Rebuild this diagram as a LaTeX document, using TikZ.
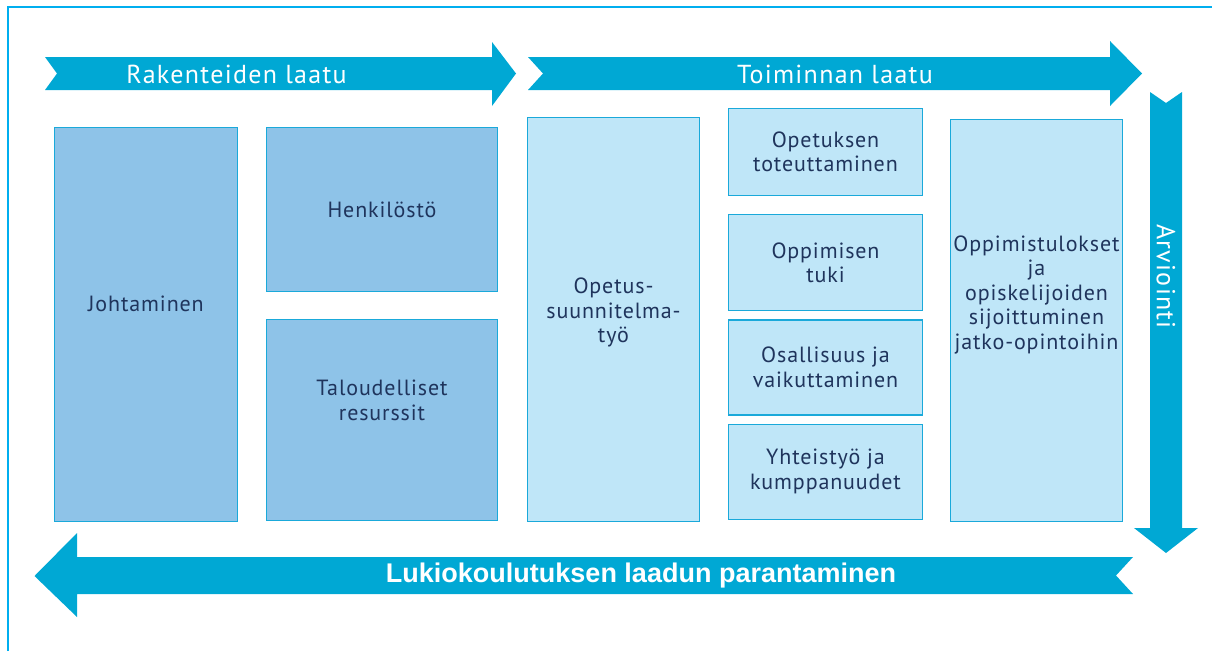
\documentclass[tikz,border=0pt]{standalone}
\usepackage{fontspec}
\setmainfont{PT Sans}
\newfontfamily\boxfont[LetterSpace=4]{PT Sans}
\newfontfamily\bandfont[LetterSpace=5]{PT Sans}
\newfontfamily\arialfont{Liberation Sans}
\usetikzlibrary{positioning}
\definecolor{frameline}{RGB}{0,174,239}
\definecolor{bandarrow}{RGB}{0,168,212}
\definecolor{structure}{RGB}{142,195,232}
\definecolor{activity}{RGB}{191,230,248}
\definecolor{boxline}{RGB}{26,169,218}
\definecolor{boxtext}{RGB}{31,52,92}

\begin{document}
\begin{tikzpicture}[
  x=1pt, y=-1pt,
  % Shared looks
  every node/.style={inner sep=0pt},
  box/.style={
    draw=boxline,
    line width=1.2pt,
    align=center,
    text=boxtext,
    font=\boxfont\fontsize{22}{24.5}\selectfont
  },
  structbox/.style={box, fill=structure},
  actbox/.style={box, fill=activity},
  boxlabel/.style={
    align=center,
    text=boxtext,
    font=\boxfont\fontsize{22}{24.5}\selectfont
  },
  band/.style={fill=bandarrow},
  bandlabel/.style={text=white, font=\bandfont\fontsize{26}{30}\selectfont},
  bottomlabel/.style={text=white, font=\arialfont\bfseries\fontsize{27}{30}\selectfont}
]

\useasboundingbox (0,0) rectangle (1212,651);

% Frame
\draw[frameline, line width=2pt] (8,651) -- (8,7) -- (1212,7);

% Top bands
\fill[band] (45,57) -- (492,57) -- (492,42) -- (516,73.5) -- (492,106)
  -- (492,90) -- (45,90) -- (57,73.5) -- cycle;
\node[bandlabel] (rakenne) at (236.5,74) {Rakenteiden laatu};

\fill[band] (528,57) -- (1110,57) -- (1110,41) -- (1142,73.5) -- (1110,106)
  -- (1110,90) -- (528,90) -- (543,73.5) -- cycle;
\node[bandlabel] (toiminta) at (835,74) {Toiminnan laatu};

% Right band
\fill[band] (1150,92) -- (1166,103) -- (1182,92) -- (1182,528) -- (1198,528)
  -- (1166,553) -- (1134,528) -- (1150,528) -- cycle;
\node[bandlabel, rotate=-90] (arvio) at (1166,276.5) {Arviointi};

% Bottom band
\fill[band] (1133,557) -- (77,557) -- (77,533) -- (34.5,576) -- (77,617)
  -- (77,594) -- (1133,594) -- (1116,575.5) -- cycle;
\node[bottomlabel] (parannus) at (641,576) {Lukiokoulutuksen laadun parantaminen};

% Structures
\node[structbox, minimum width=183pt, minimum height=394pt] (johto) at (146,324.5) {};
\node[boxlabel] (johtoText) at ([yshift=21pt]johto.center) {Johtaminen};

\node[structbox, minimum width=231pt, minimum height=164pt] (henki) at (382,209.5) {Henkilöstö};

\node[structbox, minimum width=231pt, minimum height=201pt, below=27pt of henki] (talous) {};
\node[boxlabel] (talousText) at ([yshift=20pt]talous.center) {Taloudelliset\\resurssit};

% Activities
\node[actbox, minimum width=172pt, minimum height=404pt] (ops) at (613.5,319.5) {};
\node[boxlabel] (opsText) at ([yshift=7pt]ops.center) {Opetus-\\suunnitelma-\\työ};

\node[actbox, minimum width=194pt, minimum height=87pt] (toteutus) at (825.5,152) {Opetuksen\\toteuttaminen};
\node[actbox, minimum width=194pt, minimum height=96pt, below=18pt of toteutus] (tuki) {Oppimisen\\tuki};
\node[actbox, minimum width=194pt, minimum height=95pt, below=8pt of tuki] (osallisuus) {Osallisuus ja\\vaikuttaminen};
\node[actbox, minimum width=194pt, minimum height=95pt, below=8pt of osallisuus] (yhteistyo) {Yhteistyö ja\\kumppanuudet};

\node[actbox, minimum width=172pt, minimum height=402pt] (tulokset) at (1036.5,320.5) {};
\node[boxlabel] (tuloksetText) at ([yshift=26pt]tulokset.center)
  {Oppimistulokset\\ja\\opiskelijoiden\\sijoittuminen\\jatko-opintoihin};

\end{tikzpicture}
\end{document}
